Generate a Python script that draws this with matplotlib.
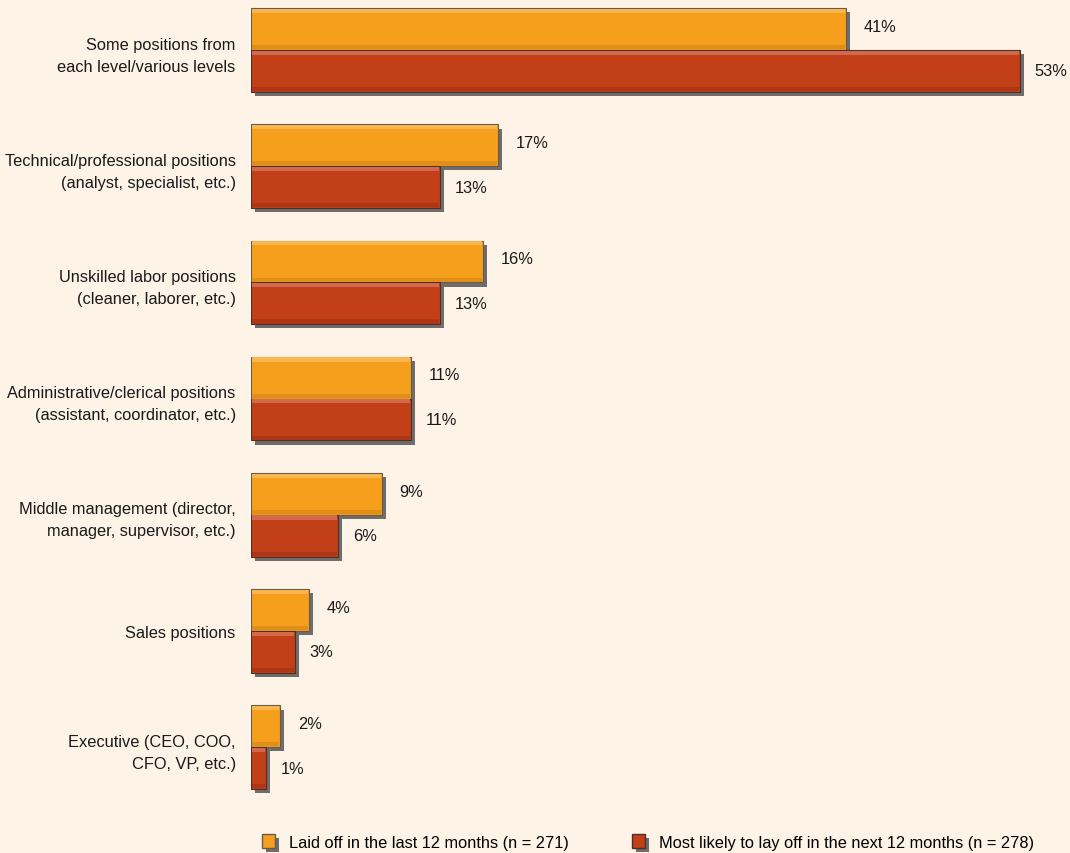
import numpy as np
import matplotlib
matplotlib.use('Agg')
import matplotlib.pyplot as plt
import matplotlib.patheffects as pe
from matplotlib.patches import Patch

# data
categories = ['Some positions from\neach level/various levels',
              'Technical/professional positions\n(analyst, specialist, etc.)',
              'Unskilled labor positions\n(cleaner, laborer, etc.)',
              'Administrative/clerical positions\n(assistant, coordinator, etc.)',
              'Middle management (director,\nmanager, supervisor, etc.)',
              'Sales positions',
              'Executive (CEO, COO,\nCFO, VP, etc.)']
laid_off = [41, 17, 16, 11, 9, 4, 2]
likely = [53, 13, 13, 11, 6, 3, 1]
series_names = ['Laid off in the last 12 months (n = 271)',
                'Most likely to lay off in the next 12 months (n = 278)']

bg = '#fdf3e7'
orange = '#f59f1d'
red = '#c33f17'

plt.rcParams['font.family'] = ['Liberation Sans', 'DejaVu Sans']
fs = 11.8

fig = plt.figure(figsize=(10.7, 8.54), dpi=100, facecolor=bg)
ax = fig.add_axes([251/1070, 54/854, 819/1070, 800/854])
ax.set_facecolor(bg)

y = np.arange(len(categories))
h = 0.36
shadow = [pe.SimplePatchShadow(offset=(3, -3), shadow_rgbFace='#5f5f5f', alpha=0.9), pe.Normal()]

b1 = ax.barh(y - h/2, laid_off, height=h, color=orange, edgecolor='#6a5a4a', linewidth=0.8)
b2 = ax.barh(y + h/2, likely, height=h, color=red, edgecolor='#4a3028', linewidth=0.8)
for b in list(b1) + list(b2):
    b.set_path_effects(shadow)

# bevel: light top strip, darker bottom strip
hl = 0.035
lo = np.array(laid_off) - 0.12
li = np.array(likely) - 0.12
ax.barh(y - h + hl/2 + 0.006, lo, height=hl, left=0.06, color='#f8b550', linewidth=0)
ax.barh(y - hl/2 - 0.006, lo, height=hl, left=0.06, color='#e08f18', linewidth=0)
ax.barh(y + hl/2 + 0.006, li, height=hl, left=0.06, color='#d2694c', linewidth=0)
ax.barh(y + h - hl/2 - 0.006, li, height=hl, left=0.06, color='#ad3714', linewidth=0)

for i in range(len(categories)):
    ax.annotate(f'{laid_off[i]}%', (laid_off[i], y[i] - h/2), xytext=(13, 2), textcoords='offset points',
                va='center', ha='left', fontsize=fs, color='#1a1a1a')
    ax.annotate(f'{likely[i]}%', (likely[i], y[i] + h/2), xytext=(11, 0), textcoords='offset points',
                va='center', ha='left', fontsize=fs, color='#1a1a1a')

ax.set_xlim(0, 819/14.5)
ax.set_ylim(6.446, -0.439)
ax.set_yticks(y)
ax.set_yticklabels(categories, fontsize=fs, color='#1a1a1a', linespacing=1.6)
ax.tick_params(axis='y', length=0, pad=11)
ax.set_xticks([])
for s in ax.spines.values():
    s.set_visible(False)

handles = [Patch(facecolor=orange, edgecolor='#6a5a4a', path_effects=shadow),
           Patch(facecolor=red, edgecolor='#4a3028', path_effects=shadow)]
fig.legend(handles, series_names, loc='center', bbox_to_anchor=(648/1070, 1 - 843/854), ncol=2,
           frameon=False, fontsize=fs, handlelength=0.8, handleheight=0.9, handletextpad=0.9,
           columnspacing=3.8)

fig.savefig('out.png', dpi=100, facecolor=bg)
